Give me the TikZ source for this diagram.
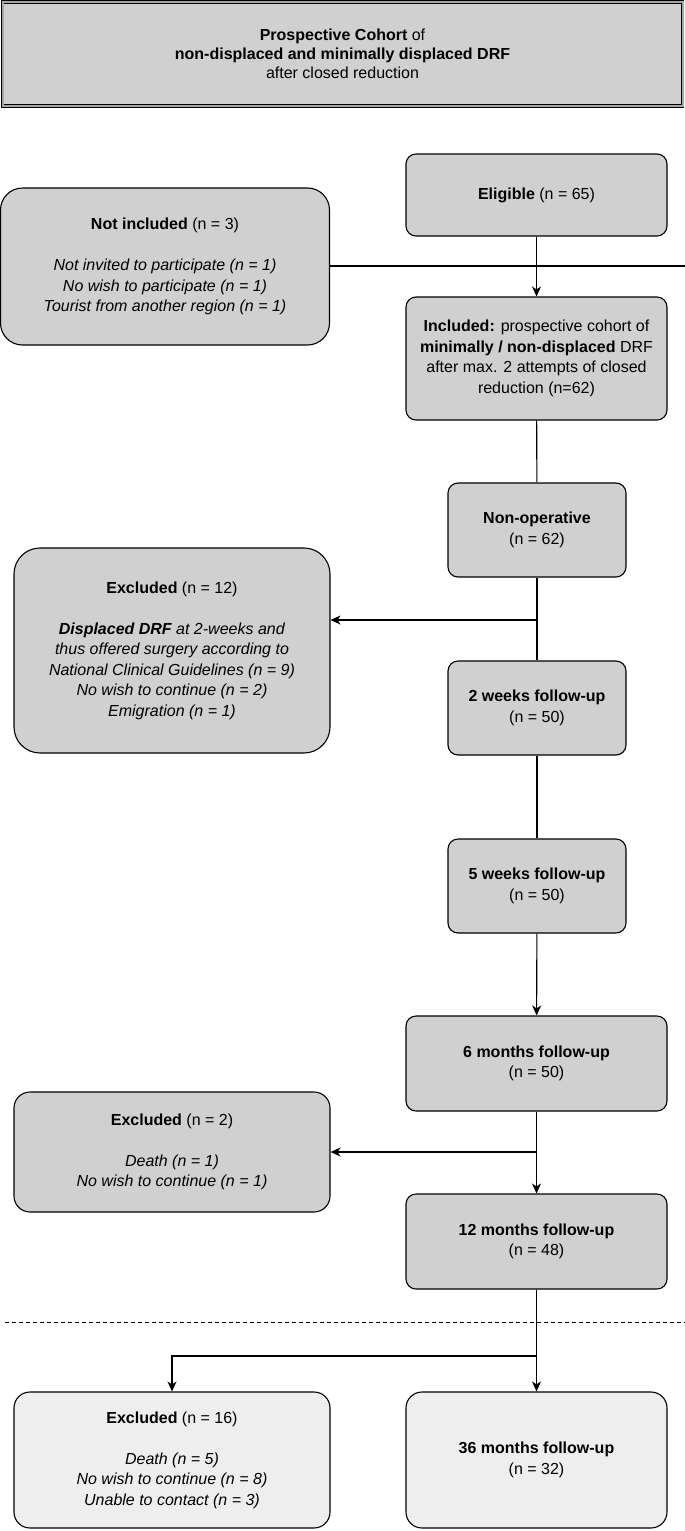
\documentclass[tikz,border=0pt]{standalone}
\usepackage{fontspec}
\setmainfont{Liberation Sans}
\usetikzlibrary{arrows.meta}
\definecolor{boxgray}{HTML}{D0D0D0}
\definecolor{lightgray}{HTML}{EEEEEE}
\begin{document}
\begin{tikzpicture}[x=1pt, y=-1pt, thick, line width=1.1pt,
    font=\fontsize{16}{20.5}\selectfont,
    main/.style = {draw, fill=boxgray, rounded corners=10pt, align=center, inner sep=0pt},
    side/.style = {main, rounded corners=22pt},
    later/.style = {fill=lightgray},
    arr/.style = {-{Stealth[length=10pt, width=9pt, inset=3pt]}}]
    \useasboundingbox (0,0) rectangle (685,1531);

    % Titolo
    \node[draw, fill=boxgray, double, double=gray!70, double distance=2pt, line width=0.9pt,
        minimum width=680pt, minimum height=104pt, align=center, font=\fontsize{16}{19}\selectfont]
        (title) at (342.5,54) {\textbf{Prospective Cohort} of\\ \textbf{non-displaced and minimally displaced DRF}\\ after closed reduction};

    % Colonna principale
    \node[main, minimum width=261pt, minimum height=82pt] (elig) at (536.5,195) {\textbf{Eligible} (n = 65)};
    \node[main, minimum width=261pt, minimum height=123pt] (incl) at (536.5,358.5)
        {\textbf{Included:} prospective cohort of\\ \textbf{minimally / non-displaced} DRF\\ after max. 2 attempts of closed\\ reduction (n=62)};
    \node[main, minimum width=178pt, minimum height=94pt] (nonop) at (537,530) {\textbf{Non-operative}\\ (n = 62)};
    \node[main, minimum width=178pt, minimum height=94pt] (wk2) at (537,708) {\textbf{2 weeks follow-up}\\ (n = 50)};
    \node[main, minimum width=178pt, minimum height=94pt] (wk5) at (537,886) {\textbf{5 weeks follow-up}\\ (n = 50)};
    \node[main, minimum width=261pt, minimum height=95pt] (mo6) at (536.5,1063.5) {\textbf{6 months follow-up}\\ (n = 50)};
    \node[main, minimum width=261pt, minimum height=95pt] (mo12) at (536.5,1241.5) {\textbf{12 months follow-up}\\ (n = 48)};
    \node[main, later, minimum width=261pt, minimum height=136pt, rounded corners=16pt] (mo36) at (536.5,1460) {\textbf{36 months follow-up}\\ (n = 32)};

    % Colonna laterale
    \node[side, minimum width=329pt, minimum height=157pt] (notinc) at (165,266.5)
        {\textbf{Not included} (n = 3)\\[20.5pt] \textit{Not invited to participate (n = 1)}\\ \textit{No wish to participate (n = 1)}\\ \textit{Tourist from another region (n = 1)}};
    \node[side, minimum width=316pt, minimum height=205pt, rounded corners=26pt] (exc1) at (172,650.5)
        {\textbf{Excluded} (n = 12)\\[20.5pt] \textit{\textbf{Displaced DRF} at 2-weeks and}\\ \textit{thus offered surgery according to}\\ \textit{National Clinical Guidelines (n = 9)}\\ \textit{No wish to continue (n = 2)}\\ \textit{Emigration (n = 1)}};
    \node[side, minimum width=316pt, minimum height=120pt, rounded corners=16pt] (exc2) at (172,1152)
        {\textbf{Excluded} (n = 2)\\[20.5pt] \textit{Death (n = 1)}\\ \textit{No wish to continue (n = 1)}};
    \node[side, later, minimum width=316pt, minimum height=136pt, rounded corners=16pt] (exc3) at (172,1460)
        {\textbf{Excluded} (n = 16)\\[20.5pt] \textit{Death (n = 5)}\\ \textit{No wish to continue (n = 8)}\\ \textit{Unable to contact (n = 3)}};

    % Punti di diramazione
    \coordinate (edge) at (685,266);
    \coordinate (b1) at (537,620);
    \coordinate (b2) at (537,1152);
    \coordinate (b3) at (537,1356);
    \coordinate (d1) at (5,1322);
    \coordinate (d2) at (685,1322);

    \draw (notinc.east |- edge) -- (edge);
    \draw[arr] (elig) -- (incl);
    \draw (incl) -- (nonop);
    \draw (nonop) -- (wk2);
    \draw[arr] (b1) -- (b1 -| exc1.east);
    \draw (wk2) -- (wk5);
    \draw[arr] (wk5) -- (mo6);
    \draw[arr] (mo6) -- (mo12);
    \draw[arr] (b2) -- (exc2.east);
    \draw[arr] (mo12) -- (mo36);
    \draw[arr] (b3) -| (exc3.north);

    \draw[dash pattern=on 4pt off 3pt, line width=1pt] (d1) -- (d2);

\end{tikzpicture}
\end{document}
